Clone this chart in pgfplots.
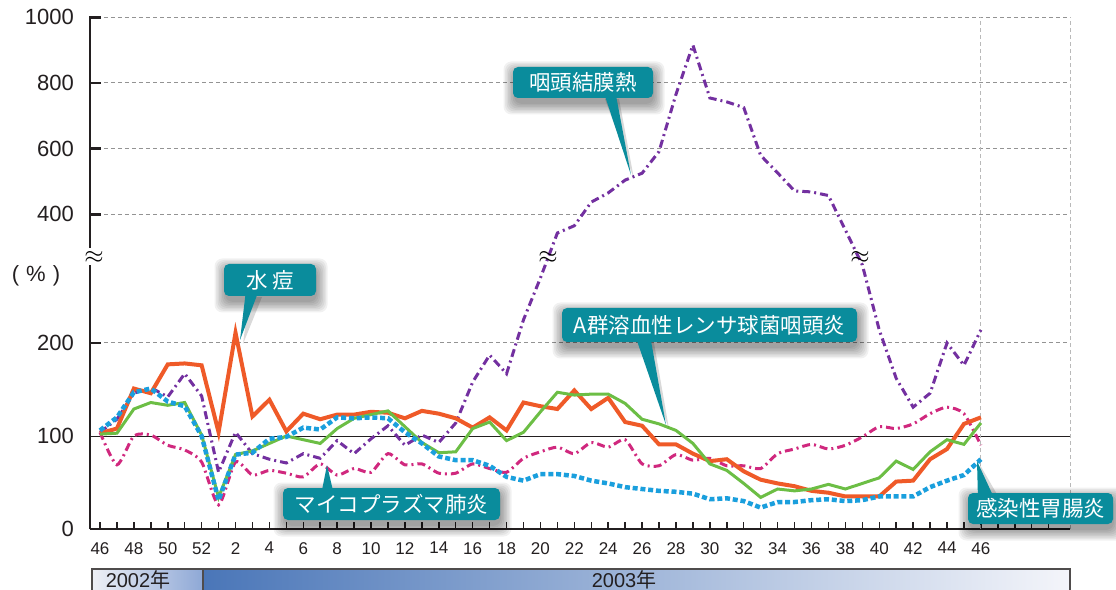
\documentclass[border=0pt]{standalone}
\usepackage{fontspec}
\setmainfont{Liberation Sans}
\newfontfamily\jp{Noto Sans CJK JP}
\usepackage{pgfplots}
\pgfplotsset{compat=1.18}
\usepackage{pgfplotstable}

\definecolor{cOr}{HTML}{EF5A28}
\definecolor{cGr}{HTML}{6CBE45}
\definecolor{cBl}{HTML}{1A9FDD}
\definecolor{cPu}{HTML}{7330A0}
\definecolor{cMa}{HTML}{D0287E}
\definecolor{cTe}{HTML}{0A8C9C}
\definecolor{cTx}{HTML}{231F20}
\definecolor{cL1}{HTML}{EEF0F6}
\definecolor{cL2}{HTML}{8EA8D6}
\definecolor{cR1}{HTML}{4A76B8}
\definecolor{cR2}{HTML}{F4F5FA}

% i = week index (0 = 2002 week 46, 7 = 2003 week 1, 52 = 2003 week 46)
% O: varicella, G: group A strep pharyngitis, B: infectious gastroenteritis,
% P: pharyngoconjunctival fever, M: mycoplasma pneumonia  (values in %)
\pgfplotstableread{
i O G B P M
0 103 102 106 104 104
1 108 103 120 118 69
2 151 129 147 146 100
3 146 136 151 152 101
4 177 133 137 142 90
5 178 136 132 167 85
6 176 101 100 143 72
7 104 34 31 61 26
8 211 80 80 104 72
9 121 84 82 81 58
10 139 92 97 75 63
11 105 100 99 71 60
12 124 96 109 81 56
13 118 92 107 76 70
14 123 108 120 95 58
15 123 119 119 81 65
16 126 123 120 97 61
17 125 127 119 111 81
18 119 110 104 90 69
19 127 93 92 101 70
20 124 82 78 93 60
21 119 83 74 114 60
22 109 108 74 158 70
23 120 115 68 187 65
24 106 95 56 167 61
25 136 104 52 225 76
26 132 126 59 270 83
27 129 147 59 343 88
28 149 144 57 365 81
29 129 145 52 437 93
30 141 145 49 465 88
31 115 135 45 504 96
32 111 118 43 525 70
33 91 113 41 591 68
34 91 106 40 765 80
35 81 92 38 915 74
36 73 70 32 754 76
37 75 63 33 742 68
38 62 49 30 725 68
39 53 34 23 579 65
40 49 43 29 526 81
41 46 41 29 471 86
42 41 43 31 468 91
43 39 48 32 457 86
44 35 43 30 352 90
45 35 49 31 284 99
46 35 55 35 214 110
47 51 73 35 162 108
48 52 64 35 131 113
49 75 83 45 146 124
50 86 96 52 200 131
51 113 91 58 176 124
52 120 114 75 214 90
}\data

\newcommand\softshadow[4]{%
  \foreach \k in {0,1.5,...,10.5}{%
    \fill[black,opacity=0.055,rounded corners=8pt] ({#1-\k+1},{#2-\k+5}) rectangle ({#3+\k+1},{#4+\k+6});}}

\begin{document}
\begin{tikzpicture}
\begin{axis}[
  scale only axis, width=980pt, height=512pt,
  xmin=-0.59, xmax=57.26, ymin=0, ymax=550.5,
  axis x line*=bottom, axis y line*=left,
  x axis line style={line width=2pt, cTx},
  y axis line style={line width=2.8pt, cTx},
  tick align=inside, major tick length=7pt, minor tick length=7pt,
  xtick={0,2,...,52},
  xticklabels={46,48,50,52,2,4,6,8,10,12,14,16,18,20,22,24,26,28,30,32,34,36,38,40,42,44,46},
  minor xtick={1,3,...,53,54,55,56},
  xtick style={line width=1.5pt, cTx},
  every minor tick/.append style={line width=1.5pt, cTx},
  ytick={0,100,200,338.4,409.0,479.7,550.3},
  yticklabels={0,100,200,400,600,800,1000},
  ytick style={draw=none},
  xticklabel style={font=\fontsize{17}{17}\selectfont, text=cTx, anchor=north, inner sep=0pt, yshift=-13pt},
  yticklabel style={font=\fontsize{22}{22}\selectfont, text=cTx, anchor=east, inner sep=0pt, xshift=-16pt},
  clip=false,
]
% grid
\foreach \g in {200,338.4,409.0,479.7,550.3}{
  \edef\tmp{\noexpand\draw[gray!85, line width=1pt, dash pattern=on 4pt off 3pt] (axis cs:-0.59,\g) -- (axis cs:57.26,\g);}\tmp}
\draw[cTx, line width=0.9pt] (axis cs:-0.59,100) -- (axis cs:57.26,100);
\draw[gray!55, line width=1pt, dash pattern=on 4pt off 3pt] (axis cs:52,0) -- (axis cs:52,550.3);
\draw[gray!55, line width=1pt, dash pattern=on 4pt off 3pt] (axis cs:57.26,0) -- (axis cs:57.26,550.3);

\addplot[cMa, line width=3pt, dash pattern=on 8pt off 4pt on 2pt off 4pt, smooth, tension=0.4] table[x=i,y=M]{\data};
\addplot[cPu, line width=3pt, dash pattern=on 8pt off 4pt on 2pt off 4pt,
  y filter/.expression={y<=292.5 ? y : 338.4+(y-400)*0.3532}] table[x=i,y=P]{\data};
\addplot[cOr, line width=4pt] table[x=i,y=O]{\data};
\addplot[cGr, line width=3pt] table[x=i,y=G]{\data};
\addplot[cBl, line width=4.5pt, dash pattern=on 5pt off 2.8pt] table[x=i,y=B]{\data};
\end{axis}

\begin{scope}[x=1pt,y=-1pt,shift={(-90pt,529pt)}]
% y tick stubs
\foreach \yy in {343,214.3,148.7,83,17.3}{\draw[cTx, line width=2.8pt] (89,\yy) -- (101,\yy);}
% axis break
\fill[white] (84,248) rectangle (96,265);
\node[inner sep=0pt] at (94,257) {\fontsize{25}{25}\selectfont$\approx$};
\node[inner sep=0pt] at (548,257) {\fontsize{23}{23}\selectfont$\approx$};
\node[inner sep=0pt] at (860,257) {\fontsize{23}{23}\selectfont$\approx$};
% unit
\node[font=\fontsize{22}{22}\selectfont, text=cTx] at (36,276) {(\hspace{7pt}\%\hspace{7pt})};

% callouts
\softshadow{513}{67}{653}{98}
\softshadow{224}{264}{316}{296}
\softshadow{562}{308}{857}{342}
\softshadow{283}{488}{500}{520}
\softshadow{968}{493}{1113}{524}
\fill[black,opacity=0.15] (605,99) -- (634,179) -- (619,99) -- cycle;
\fill[black,opacity=0.15] (249,297) -- (243,344) -- (262,297) -- cycle;
\fill[black,opacity=0.15] (638,343) -- (669,429) -- (654,343) -- cycle;
\fill[black,opacity=0.15] (983,496) -- (980,465) -- (998,496) -- cycle;

\fill[cTe] (603,90) -- (631,175) -- (615,90) -- cycle;
\fill[cTe] (246,290) -- (240,340) -- (259,290) -- cycle;
\fill[cTe] (635,335) -- (666,425) -- (650,335) -- cycle;
\fill[cTe] (321,495) -- (327,465) -- (334,495) -- cycle;
\fill[cTe] (978,500) -- (977,461) -- (995,500) -- cycle;

\tikzset{co/.style={fill=cTe, rounded corners=5pt, text=white, inner sep=0pt, font=\jp\fontsize{21.5}{22}\selectfont}}
\node[co, minimum width=140pt, minimum height=31pt] at (583,82.5) {咽頭結膜熱};
\node[co, minimum width=92pt, minimum height=32pt] at (270,280) {水\hspace{4pt}痘};
\node[co, minimum width=295pt, minimum height=34pt] at (709.5,325) {A群溶血性レンサ球菌咽頭炎};
\node[co, minimum width=217pt, minimum height=32pt] at (391.5,504) {マイコプラズマ肺炎};
\node[co, minimum width=145pt, minimum height=31pt] at (1040.5,508.5) {感染性胃腸炎};

% year band
\shade[left color=cL1, right color=cL2] (92,569) rectangle (203,600);
\shade[left color=cR1, right color=cR2] (203,569) rectangle (1070,600);
\draw[cTx!80, line width=1.2pt] (92,600) -- (92,569) -- (1070,569) -- (1070,600);
\draw[cTx!80, line width=1.2pt] (203,569) -- (203,600);
\node[anchor=base, inner sep=0pt, text=cTx, font=\fontsize{20}{20}\selectfont] at (138,587) {2002{\jp 年}};
\node[anchor=base, inner sep=0pt, text=cTx, font=\fontsize{20}{20}\selectfont] at (624,587) {2003{\jp 年}};

\pgfresetboundingbox
\useasboundingbox (0,0) rectangle (1116,589);
\end{scope}
\end{tikzpicture}
\end{document}
